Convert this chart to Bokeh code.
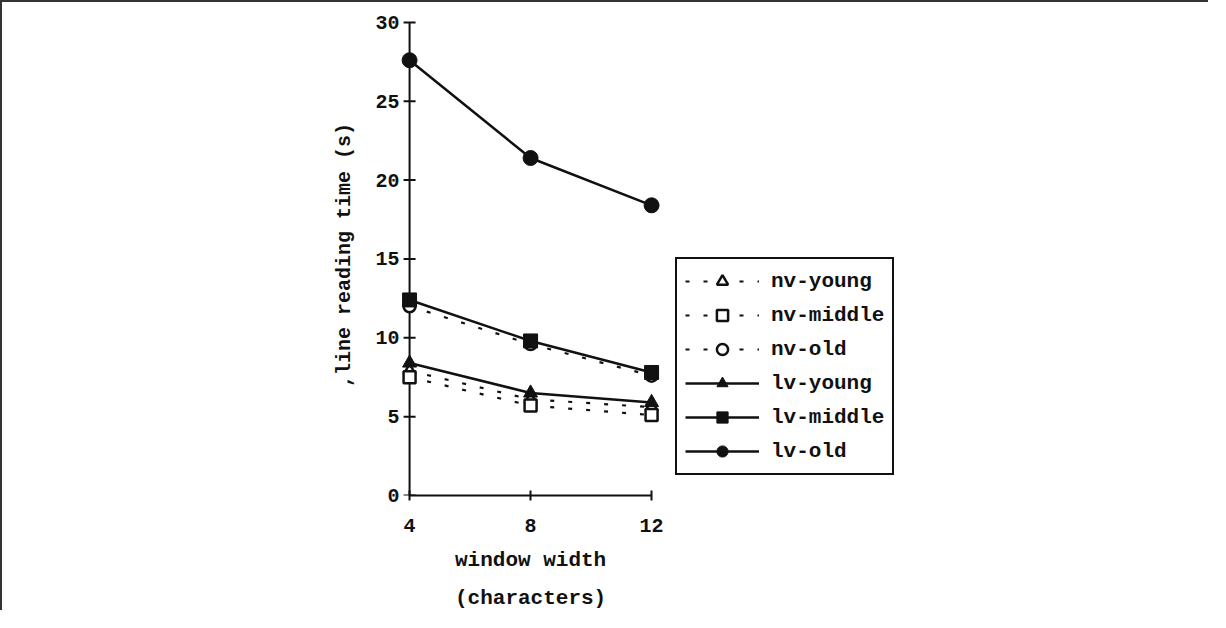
from bokeh.plotting import figure
from bokeh.models import Range1d, Legend, LegendItem, FixedTicker, Title
from bokeh.embed import file_html
from bokeh.resources import INLINE

# ---- data ----
window_width = [4, 8, 12]
nv_young = [7.9, 6.1, 5.6]
nv_middle = [7.5, 5.7, 5.1]
nv_old = [12.0, 9.6, 7.6]
lv_young = [8.4, 6.5, 5.9]
lv_middle = [12.4, 9.8, 7.8]
lv_old = [27.6, 21.4, 18.4]
series_labels = ["nv-young", "nv-middle", "nv-old", "lv-young", "lv-middle", "lv-old"]
y_ticks = [0, 5, 10, 15, 20, 25, 30]
x_ticks = [4, 8, 12]
x_title_lines = ["window width", "(characters)"]
y_title = ",line reading time (s)"
y_axis_at = 4          # the y axis crosses the x axis at window width 4
y_axis_span = [0, 30]

INK = "#111111"
FONT = "Liberation Mono"

W, H = 1208, 610
BL, BR, BT, BB = 398, 298, 12, 117
frame_w = W - BL - BR
px_per_unit = 30.25
x_start = 3.7
x_end = x_start + frame_w / px_per_unit   # frame extends right so the legend sits inside it

p = figure(width=W, height=H, output_backend="svg", toolbar_location=None,
           x_range=Range1d(x_start, x_end), y_range=Range1d(0, 30.5),
           min_border_left=BL, min_border_right=BR,
           min_border_top=BT, min_border_bottom=BB)
p.styles = {"border-top": "2px solid #333333", "border-left": "2px solid #333333"}
p.outline_line_color = None
p.xgrid.visible = False
p.ygrid.visible = False
p.background_fill_color = "white"
p.border_fill_color = "white"

for ax in (p.xaxis[0], p.yaxis[0]):
    ax.major_tick_line_color = INK
    ax.major_tick_line_width = 2
    ax.minor_tick_line_color = None
    ax.major_label_text_font = FONT
    ax.major_label_text_font_style = "bold"
    ax.major_label_text_font_size = "20px"
    ax.major_label_text_color = INK
    ax.axis_label_text_font = FONT
    ax.axis_label_text_font_style = "bold"
    ax.axis_label_text_color = INK

# y axis: labels from the axis, line and ticks drawn at x = 4
p.yaxis.ticker = FixedTicker(ticks=y_ticks)
p.yaxis.axis_line_color = None
p.yaxis.major_tick_line_color = None
p.yaxis.major_tick_in = 0
p.yaxis.major_tick_out = 0
p.yaxis.major_label_standoff = 1
p.yaxis.axis_label = y_title
p.yaxis.axis_label_text_font_size = "20px"
p.yaxis.axis_label_standoff = 16

p.segment(x0=[y_axis_at], y0=[y_axis_span[0]], x1=[y_axis_at], y1=[y_axis_span[1]],
          line_color=INK, line_width=2)
p.scatter(x=[y_axis_at] * len(y_ticks), y=y_ticks, marker="dash", size=12,
          line_color=INK, line_width=2)

# x axis
p.xaxis.ticker = FixedTicker(ticks=x_ticks)
p.xaxis.bounds = (x_ticks[0], x_ticks[-1])
p.xaxis.axis_line_color = INK
p.xaxis.axis_line_width = 2
p.xaxis.major_tick_in = 5
p.xaxis.major_tick_out = 5
p.xaxis.major_label_standoff = 18

# x axis title: centred under the axis (x = 8), not under the widened frame
TITLE_PX = 21
x_mid = (x_ticks[0] + x_ticks[-1]) / 2
mid_px = (x_mid - x_start) * px_per_unit
for i, line in enumerate(x_title_lines):
    text_w = len(line) * 0.6 * TITLE_PX      # monospace advance
    t = Title(text=line, align="left", offset=mid_px - text_w / 2,
              text_font=FONT, text_font_style="bold", text_font_size=f"{TITLE_PX}px",
              text_color=INK, standoff=25 if i == 0 else 0)
    p.add_layout(t, "below")

# series
specs = [
    (nv_young, "triangle", True),
    (nv_middle, "square", True),
    (nv_old, "circle", True),
    (lv_young, "triangle", False),
    (lv_middle, "square", False),
    (lv_old, "circle", False),
]
items = []
for (vals, marker, hollow), lab in zip(specs, series_labels):
    if hollow:
        rl = p.line(window_width, vals, line_color=INK, line_width=2.2, line_dash="4 14")
        rm = p.scatter(window_width, vals, marker=marker, size=12,
                       fill_color="white", line_color=INK, line_width=2.5)
    else:
        rl = p.line(window_width, vals, line_color=INK, line_width=2.5)
        size = 15 if marker == "circle" else 14
        rm = p.scatter(window_width, vals, marker=marker, size=size,
                       fill_color=INK, line_color=INK, line_width=1)
    items.append(LegendItem(label=lab, renderers=[rl, rm]))

legend = Legend(items=items, location=(275, 20), orientation="vertical")
legend.border_line_color = INK
legend.border_line_alpha = 1
legend.border_line_width = 2
legend.background_fill_color = "white"
legend.background_fill_alpha = 1
legend.label_text_font = FONT
legend.label_text_font_style = "bold"
legend.label_text_font_size = "21px"
legend.label_text_color = INK
legend.glyph_width = 74
legend.glyph_height = 28
legend.label_height = 28
legend.label_standoff = 12
legend.spacing = 6
legend.padding = 8
legend.margin = 0
p.add_layout(legend, "center")

open("out.html", "w").write(file_html(p, INLINE))
